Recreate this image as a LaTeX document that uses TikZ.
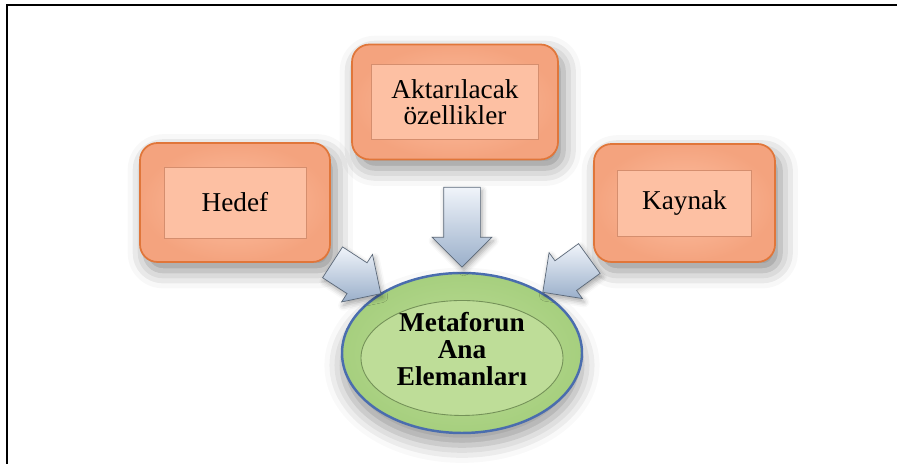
\documentclass[tikz,border=0pt]{standalone}
\usepackage{fontspec}
\setmainfont{Liberation Serif}
\usetikzlibrary{shapes.geometric,shapes.arrows,shadows.blur}

\definecolor{boxedge}{HTML}{E0763A}
\definecolor{boxfill}{HTML}{F4A37E}
\definecolor{boxin}{HTML}{FDC0A3}
\definecolor{boxline}{HTML}{D58E6E}
\definecolor{ovalfill}{HTML}{A6CF7E}
\definecolor{ovalin}{HTML}{BEDD98}
\definecolor{ovaledge}{HTML}{4A6DAE}
\definecolor{arrlight}{HTML}{F0F4FA}
\definecolor{arrdark}{HTML}{9AAFCA}

\tikzset{
  outerbox/.style={rectangle, rounded corners=10pt, draw=boxedge, line width=1pt,
    inner color=boxin, outer color=boxfill,
    blur shadow={shadow xshift=3pt, shadow yshift=-5pt, shadow blur radius=10pt, shadow opacity=45}},
  innerbox/.style={rectangle, draw=boxline, line width=0.5pt, fill=boxin,
    font=\fontsize{15.5}{15}\selectfont, align=center, inner sep=0pt},
  oval/.style={ellipse, draw=ovaledge, line width=1.4pt, inner color=ovalin, outer color=ovalfill,
    blur shadow={shadow xshift=0pt, shadow yshift=-7pt, shadow blur radius=10pt, shadow opacity=40}},
  blockarrow/.style={single arrow, draw=arrdark!60!black, line width=0.4pt,
    top color=arrlight, bottom color=arrdark, inner xsep=0pt, inner ysep=0.36cm,
    minimum height=1.6cm, single arrow head extend=0.23cm,
    blur shadow={shadow xshift=1pt, shadow yshift=-2pt, shadow blur radius=3pt, shadow opacity=35}}
}

\begin{document}
\begin{tikzpicture}
\useasboundingbox (0,0) rectangle (17.94,9.28);

% Frame round the picture (left and top edges only)
\draw[line width=1.2pt] (0.14,0) -- (0.14,9.18) -- (17.94,9.18);

% The three boxes
\node[outerbox, minimum width=4.12cm, minimum height=2.3cm] (akt) at (9.1,7.24) {};
\node[innerbox, minimum width=3.34cm, minimum height=1.5cm] (aktin) at (akt) {Aktarılacak\\özellikler};

\node[outerbox, minimum width=3.8cm, minimum height=2.38cm] (hedef) at (4.7,5.23) {};
\node[innerbox, minimum width=2.84cm, minimum height=1.42cm] (hedefin) at (hedef) {Hedef};

\node[outerbox, minimum width=3.62cm, minimum height=2.36cm] (kaynak) at (13.69,5.22) {};
\node[innerbox, minimum width=2.68cm, minimum height=1.32cm] (kaynakin) at (kaynak) {Kaynak};

% The ellipse in the middle
\node[oval, minimum width=4.8cm, minimum height=3.2cm] (ana) at (9.24,2.22) {};
\draw[ovalfill!70!black, line width=0.5pt, fill=ovalin] ([yshift=-0.1cm]ana.center) ellipse (2.02cm and 1.15cm);
\node[font=\bfseries\fontsize{15.5}{15.6}\selectfont, align=center] (anatext) at (9.24,2.3)
  {Metaforun\\Ana\\Elemanları};

% Block arrows pointing at the ellipse
\node[blockarrow, rotate=-90] (downarr) at (9.24,4.92) {};
\node[blockarrow, rotate=-33, minimum height=1.15cm, single arrow head extend=0.2cm] (leftarr) at (6.98,3.82) {};
\node[blockarrow, rotate=216, minimum height=1.15cm, single arrow head extend=0.2cm] (rightarr) at (11.47,3.88) {};

\end{tikzpicture}
\end{document}
